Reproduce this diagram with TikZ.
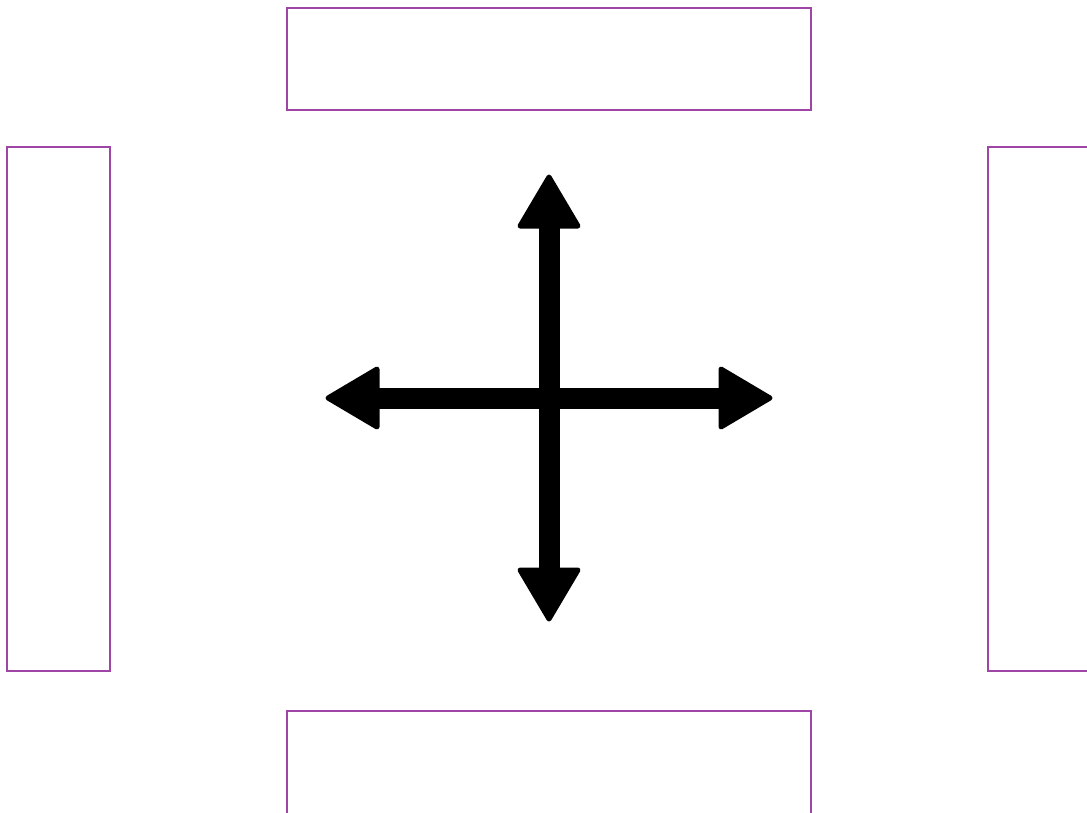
\documentclass[tikz,border=0pt]{standalone}
\usetikzlibrary{calc}
\definecolor{boxpurple}{HTML}{9E45A6}
\tikzset{
  panel/.style={draw=boxpurple, line width=2.4pt, rectangle, inner sep=0pt, fill=none},
  shaft/.style={line width=21pt, black},
  head/.style={fill=black, draw=black, line width=5pt, line join=round}
}
\begin{document}
\begin{tikzpicture}[x=1pt,y=-1pt]
\useasboundingbox (0,0) rectangle (1087,812);
\clip (0,0) rectangle (1087,812);
% panels
\node[panel, minimum width=524pt, minimum height=102pt] (top) at (549,59) {};
\node[panel, minimum width=524pt, minimum height=140pt] (bottom) at (549,781) {};
\node[panel, minimum width=103pt, minimum height=524pt] (left) at (58.5,409) {};
\node[panel, minimum width=103pt, minimum height=524pt] (right) at (1039.5,409) {};
% cross
\coordinate (c) at (549,398);
\coordinate (n) at (549,227);
\coordinate (s) at (549,569);
\coordinate (w) at (378,398);
\coordinate (e) at (720,398);
\draw[shaft] (n) -- (s);
\draw[shaft] (w) -- (e);
\filldraw[head] (549,177) -- (520,226) -- (578,226) -- cycle;
\filldraw[head] (549,619) -- (520,570) -- (578,570) -- cycle;
\filldraw[head] (328,398) -- (377,369) -- (377,427) -- cycle;
\filldraw[head] (770,398) -- (721,369) -- (721,427) -- cycle;
\end{tikzpicture}
\end{document}
